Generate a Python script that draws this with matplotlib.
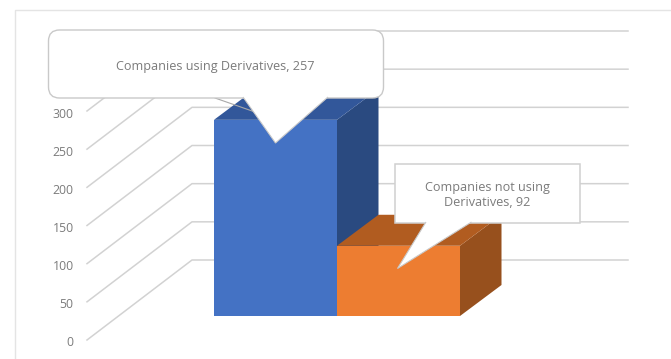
import matplotlib
matplotlib.use("Agg")
import matplotlib.pyplot as plt
from matplotlib.patches import FancyBboxPatch, Polygon, Rectangle

plt.rcParams["font.family"] = ["Open Sans", "DejaVu Sans"]

categories = ["Companies using Derivatives", "Companies not using Derivatives"]
values = [257, 92]
ticks = [0, 50, 100, 150, 200, 250, 300]

front_colors = ["#4472C4", "#ED7D31"]
side_colors = ["#2A4A80", "#97501D"]
top_colors = ["#32579A", "#B15C20"]

GRID = "#d2d2d2"
TEXT = "#7b7b7b"

# everything is laid out in pixels, y pointing down
W, H = 671, 359
PX_PER_UNIT = 229 / 300
AXIS_X = 87
AXIS_Y0 = 340
WALL_X = 192
WALL_Y0 = 260
WALL_END = 628
BAR_LEFT = 214
BAR_W = 123
BAR_Y0 = 316
DX, DY = 41.5, -31


def val_h(v):
    return v * PX_PER_UNIT


fig = plt.figure(figsize=(W / 100, H / 100), dpi=100)
ax = fig.add_axes([0, 0, 1, 1])
ax.set_xlim(0, W)
ax.set_ylim(H, 0)
ax.axis("off")

# outer frame, only top and left are visible
ax.plot([14.5, 14.5, W], [H, 9.5, 9.5], color="#e4e4e4", lw=1, zorder=1)

# walls and value axis
for t in ticks:
    h = val_h(t)
    ax.plot([AXIS_X, WALL_X, WALL_END], [AXIS_Y0 - h, WALL_Y0 - h, WALL_Y0 - h],
            color=GRID, lw=1.1, zorder=2)
    ax.text(73.5, AXIS_Y0 - h + 3, str(t), ha="right", va="center", fontsize=8.8, color=TEXT, zorder=3)

# 3d columns
for i, v in enumerate(values):
    x0 = BAR_LEFT + i * BAR_W
    x1 = x0 + BAR_W
    top = BAR_Y0 - val_h(v)
    ax.add_patch(Polygon([(x1, BAR_Y0), (x1 + DX, BAR_Y0 + DY), (x1 + DX, top + DY), (x1, top)],
                         fc=side_colors[i], ec="none", zorder=4 + i))
    ax.add_patch(Polygon([(x0, top), (x0 + DX, top + DY), (x1 + DX, top + DY), (x1, top)],
                         fc=top_colors[i], ec="none", zorder=4 + i))
    ax.add_patch(Rectangle((x0, top), BAR_W, val_h(v), fc=front_colors[i], ec="none", zorder=4 + i))

# data callouts
ax.plot([215, 255], [98, 112], color="#a9a9a9", lw=0.8, zorder=7)
ax.add_patch(FancyBboxPatch((48.5, 30), 335, 68, boxstyle="round,pad=0,rounding_size=11",
                            fc="white", ec="#c9c9c9", lw=1, zorder=8))
ax.add_patch(Polygon([(243, 97), (275.5, 143), (328, 97)], closed=False,
                     fc="white", ec="#c9c9c9", lw=0.8, zorder=9))
ax.text(215.5, 66.5, f"{categories[0]}, {values[0]}", ha="center", va="center",
        fontsize=9.1, color=TEXT, zorder=10)

ax.add_patch(Rectangle((394.5, 164), 185.5, 59, fc="white", ec="#d0d0d0", lw=1.1, zorder=8))
ax.add_patch(Polygon([(426, 222), (397.5, 268.5), (471.5, 222)], closed=False,
                     fc="white", ec="#c9c9c9", lw=0.8, zorder=9))
ax.text(487.5, 195.5, f"Companies not using\nDerivatives, {values[1]}", ha="center", va="center",
        fontsize=9.1, color=TEXT, linespacing=1.2, zorder=10)

fig.savefig("out.png", dpi=100)
